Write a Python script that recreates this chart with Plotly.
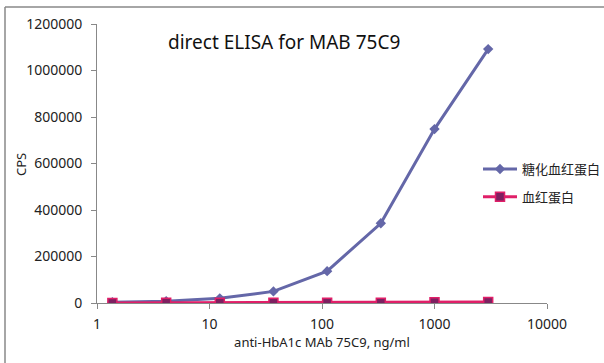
import plotly.graph_objects as go

conc = [1.37, 4.12, 12.35, 37.0, 111.1, 333.3, 1000, 3000]
hba1c = [3000, 8000, 20000, 50000, 137000, 343000, 748000, 1092000]
hb = [500, 600, 700, 800, 1000, 1500, 3000, 4000]
name1 = "糖化血红蛋白"
name2 = "血红蛋白"

L, R, T, B = 97, 57, 24, 60
W, H = 604, 363
pw, ph = W - L - R, H - T - B

fig = go.Figure()
fig.add_trace(go.Scatter(x=conc, y=hba1c, name=name1, mode="lines+markers", legendgroup="a",
                         line=dict(color="#6467A8", width=3),
                         marker=dict(symbol="diamond", size=8, color="#6467A8")))
fig.add_trace(go.Scatter(x=conc, y=hb, name=name2, mode="lines+markers", legendgroup="b",
                         line=dict(color="#E01F68", width=3),
                         marker=dict(symbol="square", size=9, color="#7E2061",
                                     line=dict(color="#E01F68", width=1.5))))

font = "Noto Sans, Noto Sans CJK SC, sans-serif"
fig.update_layout(
    width=W, height=H,
    margin=dict(l=L, r=R, t=T, b=B, autoexpand=False),
    plot_bgcolor="white", paper_bgcolor="white",
    font=dict(family=font, size=13, color="#222"),
    showlegend=True,
    legend=dict(x=(478 - L) / pw, y=(303 - 154) / ph, xanchor="left", yanchor="top",
                bgcolor="rgba(0,0,0,0)", font=dict(size=13), itemwidth=34,
                tracegroupgap=8),
    xaxis=dict(type="log", range=[0, 4], tickvals=[1, 10, 100, 1000, 10000],
               ticktext=["1", "10", "100", "1000", "10000"], automargin=False,
               tickfont=dict(size=14), ticklabelstandoff=3,
               showgrid=False, showline=True, linecolor="#888", linewidth=1,
               ticks="outside", ticklen=5, tickcolor="#888", zeroline=False,
               title=dict(text="anti-HbA1c MAb 75C9, ng/ml", font=dict(size=13), standoff=2)),
    yaxis=dict(range=[0, 1200000], tickvals=[0, 200000, 400000, 600000, 800000, 1000000, 1200000],
               ticktext=["0", "200000", "400000", "600000", "800000", "1000000", "1200000"],
               automargin=False, tickfont=dict(size=14), ticklabelstandoff=6,
               showgrid=False, showline=True, linecolor="#888", linewidth=1,
               ticks="outside", ticklen=5, tickcolor="#888", zeroline=False),
    annotations=[dict(text="direct ELISA for MAB 75C9", xref="paper", yref="paper",
                      x=(166 - L) / pw, y=(303 - 42) / ph, xanchor="left", yanchor="middle",
                      showarrow=False, font=dict(size=19, color="#111")),
                 dict(text="CPS", xref="paper", yref="paper", textangle=-90,
                      x=(21 - L) / pw, y=(303 - 165) / ph, xanchor="center", yanchor="middle",
                      showarrow=False, font=dict(size=13, color="#222"))],
    shapes=[dict(type="line", xref="paper", yref="paper",
                 x0=(5 - L) / pw, x1=(5 - L) / pw, y0=(303 - 7) / ph, y1=(303 - 363) / ph,
                 line=dict(color="#888", width=1.5)),
            dict(type="line", xref="paper", yref="paper",
                 x0=(5 - L) / pw, x1=(604 - L) / pw, y0=(303 - 7) / ph, y1=(303 - 7) / ph,
                 line=dict(color="#888", width=1.5))],
)
fig.write_html("out.html", config={"displayModeBar": False},
               post_script="document.body.style.margin='0';document.body.style.overflow='hidden';")
